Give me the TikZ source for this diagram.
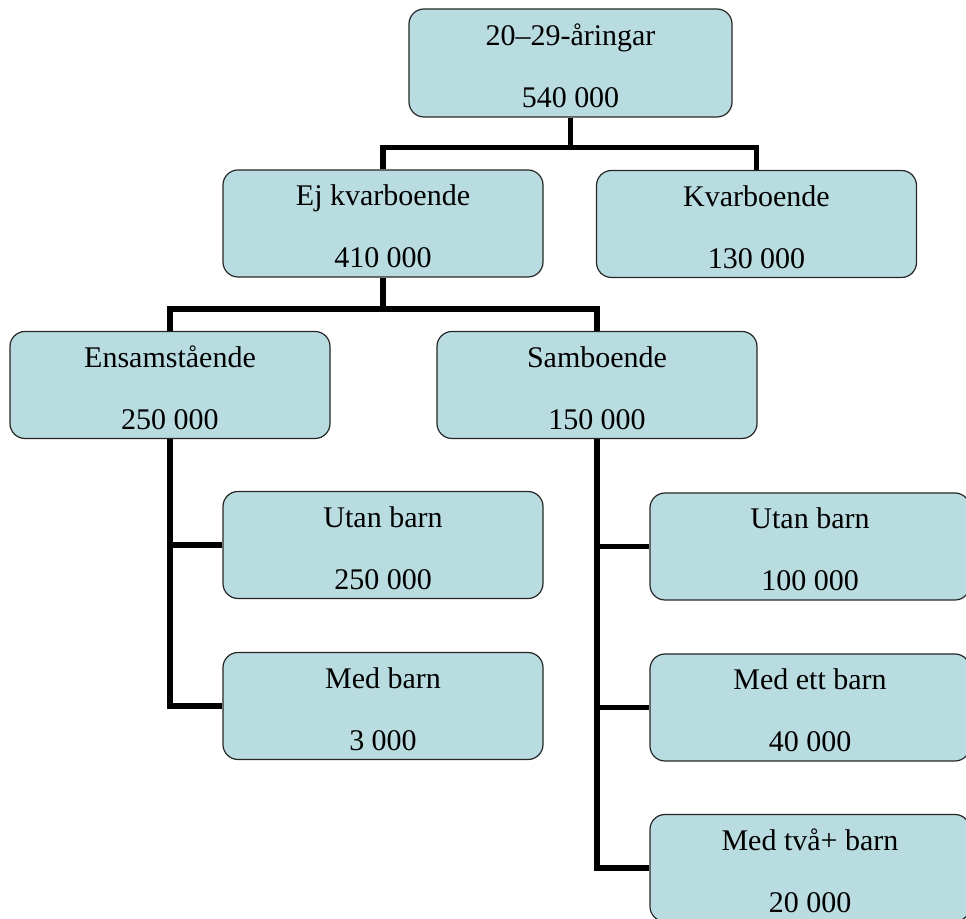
\documentclass[tikz,border=0pt]{standalone}
\usepackage{fontspec}
\setmainfont{Liberation Serif}
\usepackage{xcolor}
\definecolor{boxfill}{RGB}{185,220,224}
\newcommand{\orglabel}[2]{\rule{0pt}{13.5pt}#1\\[13pt]#2}
\tikzset{
  orgbox/.style={
    draw=black!85, line width=0.6pt, fill=boxfill, rounded corners=7.5pt,
    minimum width=160pt, minimum height=53.5pt, align=center,
    font=\fontsize{15}{18}\selectfont
  },
  branch/.style={draw=black, line width=2.6pt, line join=miter}
}

\begin{document}
\begin{tikzpicture}[x=0.5pt,y=-0.5pt]
	\useasboundingbox (0,0) rectangle (966,919);
	\clip (0,0) rectangle (966,919);
	%
	\node[orgbox, minimum width=161.5pt, minimum height=54pt] (alla) at (570.5,63) {\orglabel{20–29-åringar}{540 000}};
	\node[orgbox] (ejkvar) at (383,223.5) {\orglabel{Ej kvarboende}{410 000}};
	\node[orgbox] (kvar) at (756.5,224) {\orglabel{Kvarboende}{130 000}};
	\node[orgbox] (ensam) at (170,385) {\orglabel{Ensamstående}{250 000}};
	\node[orgbox] (sambo) at (597,385) {\orglabel{Samboende}{150 000}};
	\node[orgbox] (ensutan) at (383,545) {\orglabel{Utan barn}{250 000}};
	\node[orgbox] (ensmed) at (383,706) {\orglabel{Med barn}{3 000}};
	\node[orgbox] (samutan) at (810,546.5) {\orglabel{Utan barn}{100 000}};
	\node[orgbox] (samett) at (810,707.5) {\orglabel{Med ett barn}{40 000}};
	\node[orgbox] (samtva) at (810,868) {\orglabel{Med två+ barn}{20 000}};
	%
	\coordinate (j1) at (570.5,147.5);
	\coordinate (j2) at (383,309);
	\draw[branch] (alla.south) -- (j1);
	\draw[branch] (ejkvar.north) |- (j1) -| (kvar.north);
	\draw[branch] (ejkvar.south) -- (j2);
	\draw[branch] (ensam.north) |- (j2) -| (sambo.north);
	%
	\draw[branch] (ensam.south) |- (ensmed.west);
	\draw[branch] (ensam.south |- ensutan.west) -- (ensutan.west);
	\draw[branch] (sambo.south) |- (samtva.west);
	\draw[branch] (sambo.south |- samutan.west) -- (samutan.west);
	\draw[branch] (sambo.south |- samett.west) -- (samett.west);
\end{tikzpicture}
\end{document}
